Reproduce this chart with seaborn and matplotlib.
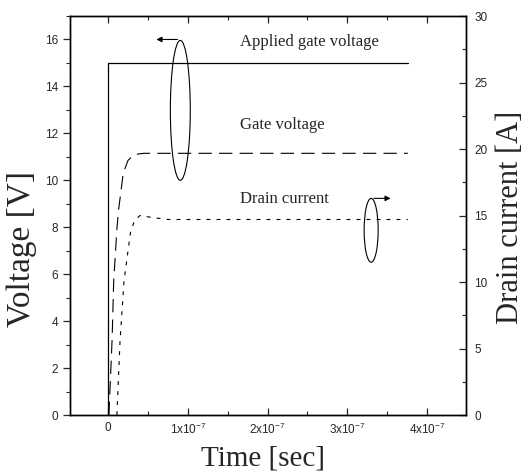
import matplotlib
matplotlib.use("Agg")
import matplotlib.pyplot as plt
import seaborn as sns
import pandas as pd
from matplotlib.patches import Ellipse
from matplotlib.ticker import MultipleLocator, FixedLocator

# ---- data (time in seconds) ----
applied_t = [0.0, 0.0, 3.76e-7]
applied_v = [0.0, 15.0, 15.0]

gate_t = [1.0e-9, 5.0e-9, 7.0e-9, 1.1e-8, 1.3e-8, 1.9e-8, 2.5e-8, 3.3e-8, 4.5e-8, 3.76e-7]
gate_v = [0.0, 3.2, 5.7, 7.9, 8.7, 10.3, 10.85, 11.1, 11.15, 11.15]

drain_t = [1.1e-8, 1.5e-8, 2.0e-8, 2.8e-8, 3.3e-8, 4.0e-8, 5.5e-8, 7.5e-8, 3.76e-7]
drain_a = [0.0, 5.6, 10.1, 13.7, 14.6, 15.0, 14.85, 14.7, 14.7]

x_ticks = [0.0, 1e-7, 2e-7, 3e-7, 4e-7]
x_tick_labels = ["0", "1x10$^{-7}$", "2x10$^{-7}$", "3x10$^{-7}$", "4x10$^{-7}$"]
left_ticks = [0, 2, 4, 6, 8, 10, 12, 14, 16]
right_ticks = [0, 5, 10, 15, 20, 25, 30]

sns.set_style("ticks")
plt.rcParams["font.family"] = ["Liberation Sans", "DejaVu Sans"]
plt.rcParams["mathtext.fontset"] = "custom"
plt.rcParams["mathtext.rm"] = "Liberation Sans"
plt.rcParams["mathtext.it"] = "Liberation Sans"
plt.rcParams["mathtext.default"] = "regular"

fig = plt.figure(figsize=(5.28, 4.75), dpi=100)
ax = fig.add_axes([70/528, 1-415/475, (466-70)/528, (415-16)/475])
ax2 = ax.twinx()

df_a = pd.DataFrame({"t": applied_t, "v": applied_v})
df_g = pd.DataFrame({"t": gate_t, "v": gate_v})
df_d = pd.DataFrame({"t": drain_t, "a": drain_a})

sns.lineplot(data=df_a, x="t", y="v", ax=ax, color="black", lw=0.9, sort=False, estimator=None)
sns.lineplot(data=df_g, x="t", y="v", ax=ax, color="black", lw=0.8, sort=False, estimator=None)
ax.lines[-1].set_dashes([12, 6.5])
sns.lineplot(data=df_d, x="t", y="a", ax=ax2, color="black", lw=0.8, sort=False, estimator=None)
ax2.lines[-1].set_dashes([3.5, 5.5])

ax.set_xlim(-0.478e-7, 4.49e-7)
ax.set_ylim(0, 17)
ax2.set_ylim(0, 30)

ax.xaxis.set_major_locator(FixedLocator(x_ticks))
ax.set_xticklabels(x_tick_labels)
ax.xaxis.set_minor_locator(MultipleLocator(0.5e-7))
ax.set_yticks(left_ticks)
ax.yaxis.set_minor_locator(MultipleLocator(1))
ax2.set_yticks(right_ticks)
ax2.yaxis.set_minor_locator(MultipleLocator(2.5))

ax.tick_params(axis="x", which="both", direction="in", top=True, bottom=True, labelsize=8.5, pad=5)
ax.tick_params(axis="x", which="major", length=5, width=0.9)
ax.tick_params(axis="x", which="minor", length=3, width=0.8)
ax.tick_params(axis="y", which="major", direction="out", length=5, width=0.9, labelsize=8.5)
ax.tick_params(axis="y", which="minor", direction="out", length=3, width=0.8)
ax2.tick_params(axis="y", which="major", direction="in", length=5, width=0.9, labelsize=8.5, pad=6)
ax2.tick_params(axis="y", which="minor", direction="in", length=3, width=0.8)

for a in (ax, ax2):
    for s in a.spines.values():
        s.set_visible(True)
        s.set_linewidth(1.0)
        s.set_color("black")

serif = ["Liberation Serif", "DejaVu Serif"]
ax.set_xlabel("")
ax.set_ylabel("")
ax2.set_ylabel("")
fig.text(263/528, 1-459/475, "Time [sec]", family=serif, fontsize=21, ha="center", va="center")
fig.text(22/528, 1-249/475, "Voltage [V]", family=serif, fontsize=24, ha="center", va="center",
         rotation=90)
fig.text(510/528, 1-217/475, "Drain current [A]", family=serif, fontsize=22, ha="center",
         va="center", rotation=90)

ax.text(1.66e-7, 15.9, "Applied gate voltage", family=serif, fontsize=12, va="center", ha="left")
ax.text(1.66e-7, 12.35, "Gate voltage", family=serif, fontsize=12, va="center", ha="left")
ax.text(1.66e-7, 9.2, "Drain current", family=serif, fontsize=12, va="center", ha="left")

ax.add_patch(Ellipse((0.906e-7, 12.98), 0.25e-7, 5.96, fill=False, ec="black", lw=0.8))
ax.annotate("", xy=(0.57e-7, 16.0), xytext=(0.906e-7, 16.0),
            arrowprops=dict(arrowstyle="-|>", color="black", lw=0.8, mutation_scale=8))
ax.add_patch(Ellipse((3.30e-7, 7.87), 0.176e-7, 2.72, fill=False, ec="black", lw=0.8))
ax.annotate("", xy=(3.58e-7, 9.23), xytext=(3.30e-7, 9.23),
            arrowprops=dict(arrowstyle="-|>", color="black", lw=0.8, mutation_scale=8))

ax.set_zorder(ax2.get_zorder() + 1)
ax.patch.set_visible(False)

fig.savefig("out.png", dpi=100)
